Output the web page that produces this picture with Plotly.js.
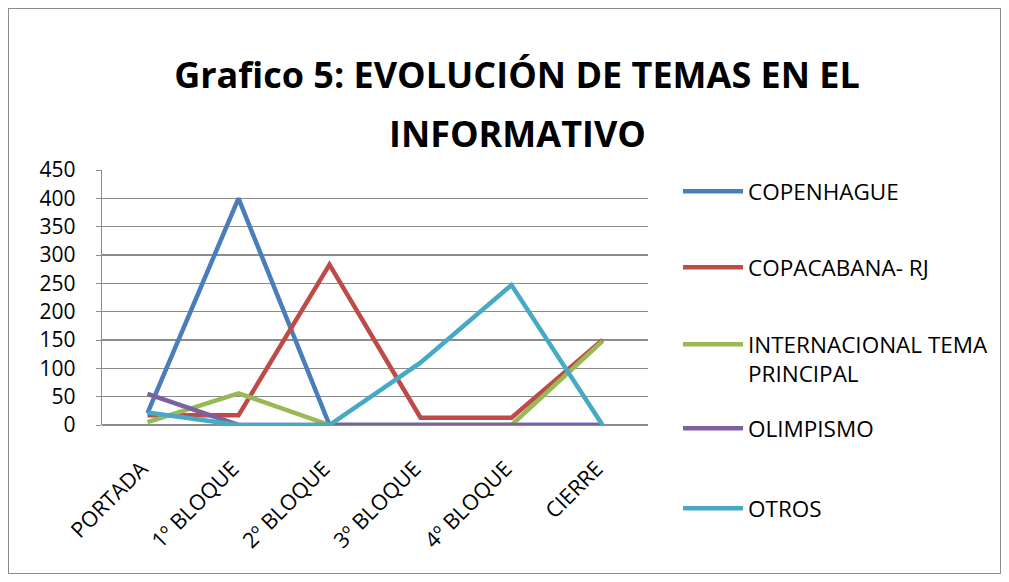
<!DOCTYPE html>
<html><head><meta charset="utf-8">
<script src="https://cdn.plot.ly/plotly-3.0.1.min.js"></script>
<style>
html,body{margin:0;padding:0;background:#fff;}
#wrap{position:relative;width:1009px;height:582px;}
#frame{position:absolute;left:8px;top:8px;width:991px;height:564px;border:1px solid #8c8c8c;pointer-events:none;z-index:10;}
#chart{width:1009px;height:582px;}
</style></head>
<body><div id="wrap"><div id="chart"></div><div id="frame"></div></div>
<script>
const categories = ["PORTADA", "1º BLOQUE", "2º BLOQUE", "3º BLOQUE", "4º BLOQUE", "CIERRE"];
const copenhague = [21, 400, 0, 0, 0, 0];
const copacabana = [17, 17, 283, 13, 13, 150];
const internacional = [5, 56, 0, 0, 0, 148];
const olimpismo = [55, 0, 0, 0, 0, 0];
const otros = [22, 0, 0, 110, 247, 0];
const seriesNames = ["COPENHAGUE", "COPACABANA- RJ", "INTERNACIONAL TEMA<br>PRINCIPAL", "OLIMPISMO", "OTROS"];
const yTicks = [0, 50, 100, 150, 200, 250, 300, 350, 400, 450];
const titleLines = ["Grafico 5: EVOLUCIÓN DE TEMAS EN EL", "INFORMATIVO"];

const colors = ["#4A7EBB", "#BE4B48", "#98B954", "#7D60A0", "#46AAC5"];
const allSeries = [copenhague, copacabana, internacional, olimpismo, otros];
const legendIds = ["legend", "legend2", "legend3", "legend4", "legend5"];
const font = "Open Sans, Liberation Sans, sans-serif";

const traces = allSeries.map((s, i) => ({
  type: "scatter", mode: "lines", x: categories, y: s, name: seriesNames[i],
  line: {color: colors[i], width: 4.5}, legend: legendIds[i], showlegend: true
}));

// legend item vertical centres (px from top)
const legendY = [192, 268, 345, 429, 509];
const W = 1009, H = 582;
const layout = {
  width: W, height: H,
  paper_bgcolor: "#fff", plot_bgcolor: "#fff",
  margin: {l: 102, r: 361, t: 170, b: 157, autoexpand: false},
  title: {text: "<b>" + titleLines[0] + "</b>",
    font: {family: font, size: 36, color: "#000"}, x: 517 / W, xanchor: "center", xref: "container",
    y: 1 - 75 / H, yanchor: "middle", yref: "container"},
  annotations: [{text: "<b>" + titleLines[1] + "</b>", xref: "paper", yref: "paper",
    x: (517 - 102) / 546, y: (582 - 157 - 133) / 255, xanchor: "center", yanchor: "middle",
    showarrow: false, font: {family: font, size: 36, color: "#000"}}],
  xaxis: {type: "category", range: [-0.5, 5.5], tickangle: -45, tickfont: {family: font, size: 21.5, color: "#000"},
    showgrid: false, showline: false, zeroline: false, ticks: "", fixedrange: true,
    ticklabelstandoff: 26, ticklabelshift: -6},
  yaxis: {range: [0, 450], tickvals: yTicks, ticktext: yTicks.map(String),
    tickfont: {family: font, size: 21, color: "#000"}, showgrid: true, gridcolor: "#8c8c8c", gridwidth: 1.3,
    showline: true, linecolor: "#8c8c8c", linewidth: 1.3, ticks: "outside", ticklen: 5, tickcolor: "#8c8c8c",
    zeroline: true, zerolinecolor: "#8c8c8c", zerolinewidth: 1.3, ticklabelstandoff: 16}
};
legendIds.forEach((id, i) => {
  layout[id] = {x: 678 / W, xanchor: "left", xref: "container", y: 1 - (legendY[i] - 22) / H, yanchor: "top", yref: "container",
    font: {family: font, size: 22.5, color: "#000"}, bgcolor: "rgba(0,0,0,0)", itemwidth: 60,
    valign: "top"};
});
Plotly.newPlot("chart", traces, layout, {displayModeBar: false, staticPlot: true});
</script></body></html>
